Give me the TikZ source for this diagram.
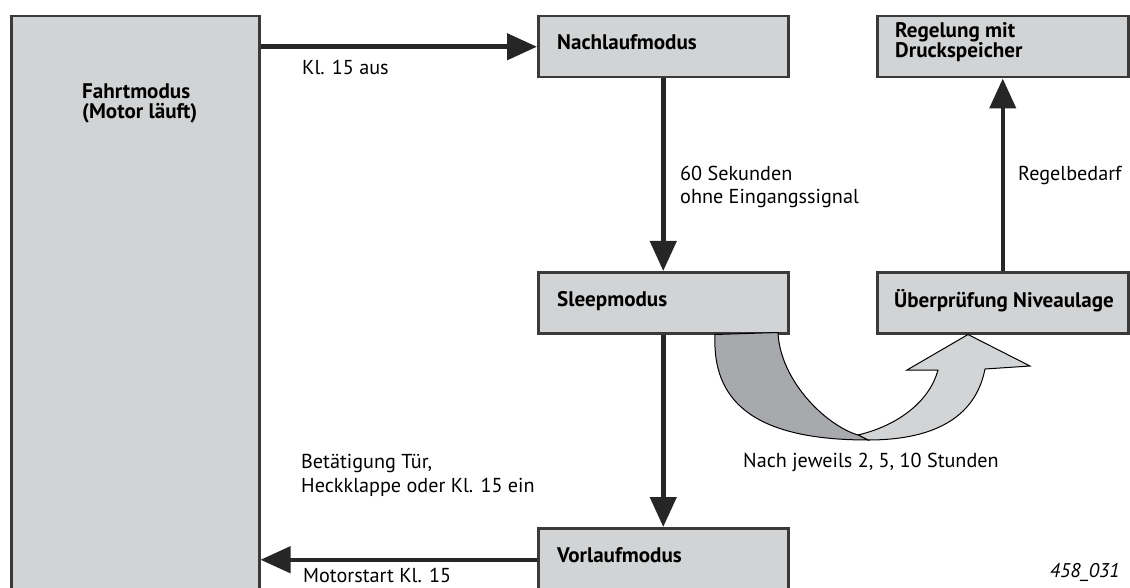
\documentclass[tikz,border=0pt]{standalone}
\usepackage{fontspec}
\setmainfont{PT Sans}
\usetikzlibrary{arrows.meta}
\definecolor{boxfill}{HTML}{D1D3D4}
\definecolor{boxline}{HTML}{3A3A3A}
\definecolor{darkband}{HTML}{A7A9AC}
\definecolor{lightband}{HTML}{D3D4D5}
\definecolor{arrcol}{HTML}{262626}
\newsavebox\measbox
\newcommand\measw[2]{\sbox\measbox{\fontsize{10}{12}\selectfont#2}\pgfmathsetmacro#1{\the\wd\measbox}}
\begin{document}
\measw\mwa{\bfseries Überprüfung Niveaulage}%
\measw\mwb{\bfseries Nachlaufmodus}%
\measw\mwc{\bfseries Fahrtmodus}%
\pgfmathsetmacro\boldsize{(2190/\mwa+1400/\mwb+1080/\mwc)/3}%
\measw\mwd{Nach jeweils 2, 5, 10 Stunden}%
\measw\mwe{Heckklappe oder Kl. 15 ein}%
\measw\mwf{ohne Eingangssignal}%
\pgfmathsetmacro\regsize{(2580/\mwd+2320/\mwe+1780/\mwf)/3}%
\measw\mwg{\itshape 458\_031}%
\pgfmathsetmacro\itsize{700/\mwg}%
\tikzset{
  statebox/.style={draw=boxline, line width=2.5pt, fill=boxfill, rectangle,
    minimum width=250pt, minimum height=61pt, anchor=north west,
    inner sep=0pt},
  boxtext/.style={anchor=base west, inner sep=0pt,
    font=\fontsize{\boldsize}{20}\selectfont\bfseries},
  lbl/.style={anchor=base west, inner sep=0pt,
    font=\fontsize{\regsize}{23}\selectfont},
  arr/.style={draw=arrcol, line width=4.5pt,
    -{Triangle[length=30pt,width=26pt]}},
}
\begin{tikzpicture}[x=1pt,y=-1pt]
\useasboundingbox (0,0) rectangle (1130,588);
\clip (0,0) rectangle (1130,588);
% boxes
\node[statebox, minimum width=248pt, minimum height=600pt] (fahrt) at (10,15) {};
\node[statebox] (nach) at (537,15) {};
\node[statebox] (sleep) at (537,271) {};
\node[statebox, minimum height=63pt] (vor) at (537,527) {};
\node[statebox, minimum width=251pt] (regel) at (876,15) {};
\node[statebox, minimum width=251pt] (ueber) at (876,271) {};
% box texts
\node[boxtext] (fahrttxt) at (82,99) {Fahrtmodus};
\node[boxtext] (fahrttxt2) at (82,119) {(Motor läuft)};
\node[boxtext] (nachtxt) at (557,50) {Nachlaufmodus};
\node[boxtext] (sleeptxt) at (557,306) {Sleepmodus};
\node[boxtext] (vortxt) at (557,562) {Vorlaufmodus};
\node[boxtext] (regeltxt) at (895,37.5) {Regelung mit};
\node[boxtext] (regeltxt2) at (895,57.5) {Druckspeicher};
\node[boxtext] (uebertxt) at (894,307) {Überprüfung Niveaulage};
% arrows
\draw[arr] (fahrt.east |- nach.west) -- (nach.west);
\draw[arr] (nach.south) -- (sleep.north);
\draw[arr] (sleep.south) -- (vor.north);
\draw[arr] (vor.west) -- (fahrt.east |- vor.west);
\draw[arr] (ueber.north) -- (regel.south);
% curved band arrow
\coordinate (cstart) at (sleep.south -| 715,0);
\coordinate (ctip) at (ueber.south -| 968,0);
\fill[lightband, draw=black, line width=1pt, line join=miter]
  (858,435) .. controls (900,425) and (930,400) .. (938,370)
  -- (907,370) -- (ctip) -- (1030,366) -- (985,369)
  .. controls (975,420) and (930,440) .. (868,440) -- cycle;
\fill[darkband, draw=black, line width=1pt]
  (cstart) .. controls (712,400) and (752,440) .. (868,440)
  -- (858,435) .. controls (825,425) and (780,380) .. (778,332.5) -- cycle;
% labels
\node[lbl] (l1) at (302,75) {Kl. 15 aus};
\node[lbl] (l2) at (680,181) {60 Sekunden};
\node[lbl] (l2b) at (680,204) {ohne Eingangssignal};
\node[lbl] (l3) at (1018,181) {Regelbedarf};
\node[lbl] (l4) at (301,468) {Betätigung Tür,};
\node[lbl] (l4b) at (301,492) {Heckklappe oder Kl. 15 ein};
\node[lbl] (l5) at (303,582) {Motorstart Kl. 15};
\node[lbl] (l6) at (743,467) {Nach jeweils 2, 5, 10 Stunden};
\node[lbl, anchor=base east, font=\fontsize{\itsize}{20}\selectfont\itshape] (l7) at (1120,577) {458\_031};
\end{tikzpicture}
\end{document}
